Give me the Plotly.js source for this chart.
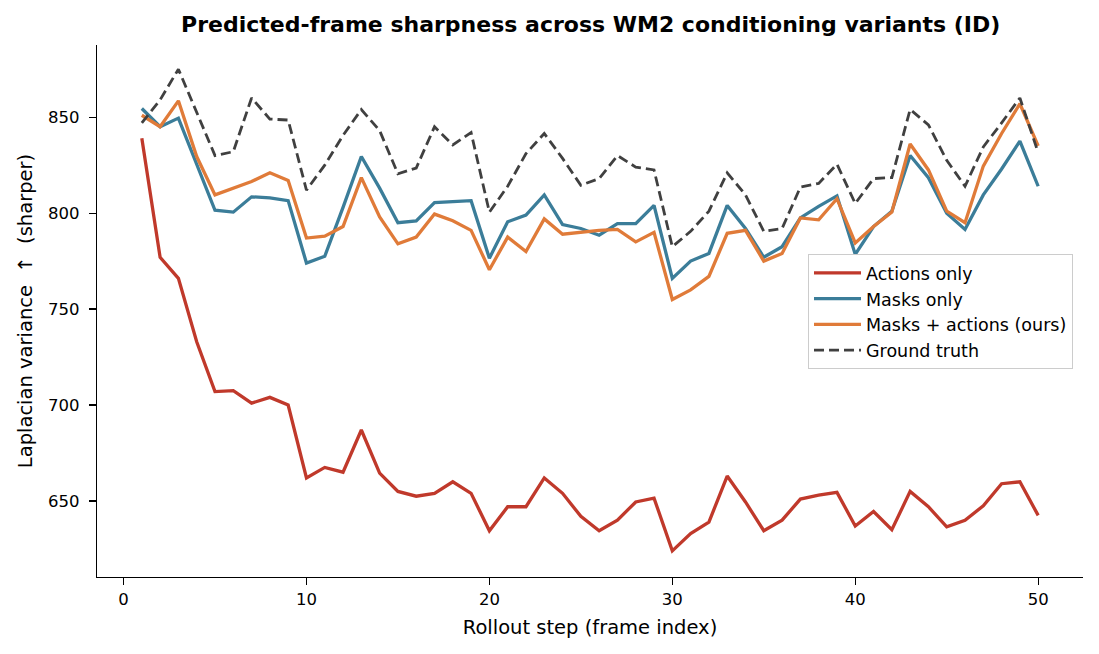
<!DOCTYPE html>
<html>
<head>
<meta charset="utf-8">
<script src="https://cdn.plot.ly/plotly-3.0.1.min.js"></script>
<style>html,body{margin:0;padding:0;background:#fff}#chart{width:1099px;height:654px}</style>
</head>
<body>
<div id="chart"></div>
<script>
const steps = Array.from({length: 50}, (_, i) => i + 1);
const actionsOnly = [839,777,766,733,707,707.5,701,704,700,662,667.5,665,687,664.5,655,652.5,654,660,654,634.5,647,647,662,654,642,634.5,640,649.5,651.5,624,633,639,663,649.5,634.5,640,651,653,654.5,637,644.5,635,655,647,636.5,640,647.5,659,660,642.5];
const masksOnly = [854.5,845,849.5,826,801.5,800.5,808.5,808,806.5,774,777.5,803,829.5,813,795,796,805.5,806,806.5,776.5,795.5,799,809.5,794,792,788.5,794.5,794.5,804,766,775,779,804,792,777,782.5,797.5,803.5,809,778.5,793,801,830,818.5,800,791.5,809.5,823,837.5,814];
const masksActions = [851,845,858.5,829.5,809.5,813,816.5,821,817,787,788,793,818.5,798,784,787.5,799.5,796,791,770.5,787.5,780,797,789,790,791,791.5,785,790,755,760,767,789.5,791,775,779,797.5,796.5,807.5,784.5,793,800.5,836,822.5,801,795,824.5,841.5,857,835];
const groundTruth = [847,859,875,852,830,832,860,849,848.5,812,825,840.5,854,843,820.5,823.5,845,835.5,842,800.5,814,831,841.5,828.5,814.5,818,830,824,822.5,782.5,790.5,801,821,809.5,790.5,792,813.5,815.5,825.5,805,818,818.5,854,846,827.5,814,834.5,847,860,831.5];

const names = ["Actions only", "Masks only", "Masks + actions (ours)", "Ground truth"];
const colors = ["#c0392b", "#3b7d99", "#e07b39", "#404040"];
const series = [actionsOnly, masksOnly, masksActions, groundTruth];

const traces = series.map((ys, i) => ({
  x: steps, y: ys, type: "scatter", mode: "lines", name: names[i],
  legendgroup: "g" + i,
  line: {color: colors[i], width: i === 3 ? 2.8 : 3.3, dash: i === 3 ? "10px,5px" : "solid"},
  hoverinfo: "x+y"
}));

const layout = {
  width: 1099, height: 654,
  margin: {l: 97, r: 16, t: 45, b: 77},
  paper_bgcolor: "#fff", plot_bgcolor: "#fff",
  font: {family: "DejaVu Sans, sans-serif", size: 16.5, color: "#000"},
  title: {text: "<b>Predicted-frame sharpness across WM2 conditioning variants (ID)</b>",
          font: {size: 22, family: "DejaVu Sans, sans-serif", color: "#000"},
          x: 0.5375, xanchor: "center", y: 0.963, yanchor: "middle"},
  xaxis: {
    range: [-1.45, 52.45], tickvals: [0, 10, 20, 30, 40, 50],
    showgrid: false, zeroline: false, showline: true, linecolor: "#000", linewidth: 1.2,
    ticks: "outside", ticklen: 7, tickwidth: 1.2, tickcolor: "#000",
    tickfont: {size: 16.5},
    title: {text: "Rollout step (frame index)", font: {size: 19.5}, standoff: 12}
  },
  yaxis: {
    range: [610.4, 887.6], tickvals: [650, 700, 750, 800, 850],
    showgrid: false, zeroline: false, showline: true, linecolor: "#000", linewidth: 1.2,
    ticks: "outside", ticklen: 7, tickwidth: 1.2, tickcolor: "#000",
    tickfont: {size: 16.5}, ticklabelstandoff: 6,
    title: {text: "Laplacian variance  ↑  (sharper)", font: {size: 19.5}, standoff: 10}
  },
  showlegend: true,
  legend: {
    x: 0.7211, y: 0.607, xanchor: "left", yanchor: "top",
    bgcolor: "rgba(255,255,255,0.85)", bordercolor: "#cccccc", borderwidth: 1,
    font: {size: 17.5}, tracegroupgap: 0, traceorder: "grouped", itemwidth: 47
  }
};

Plotly.newPlot("chart", traces, layout, {displayModeBar: false, staticPlot: true});
</script>
</body>
</html>
